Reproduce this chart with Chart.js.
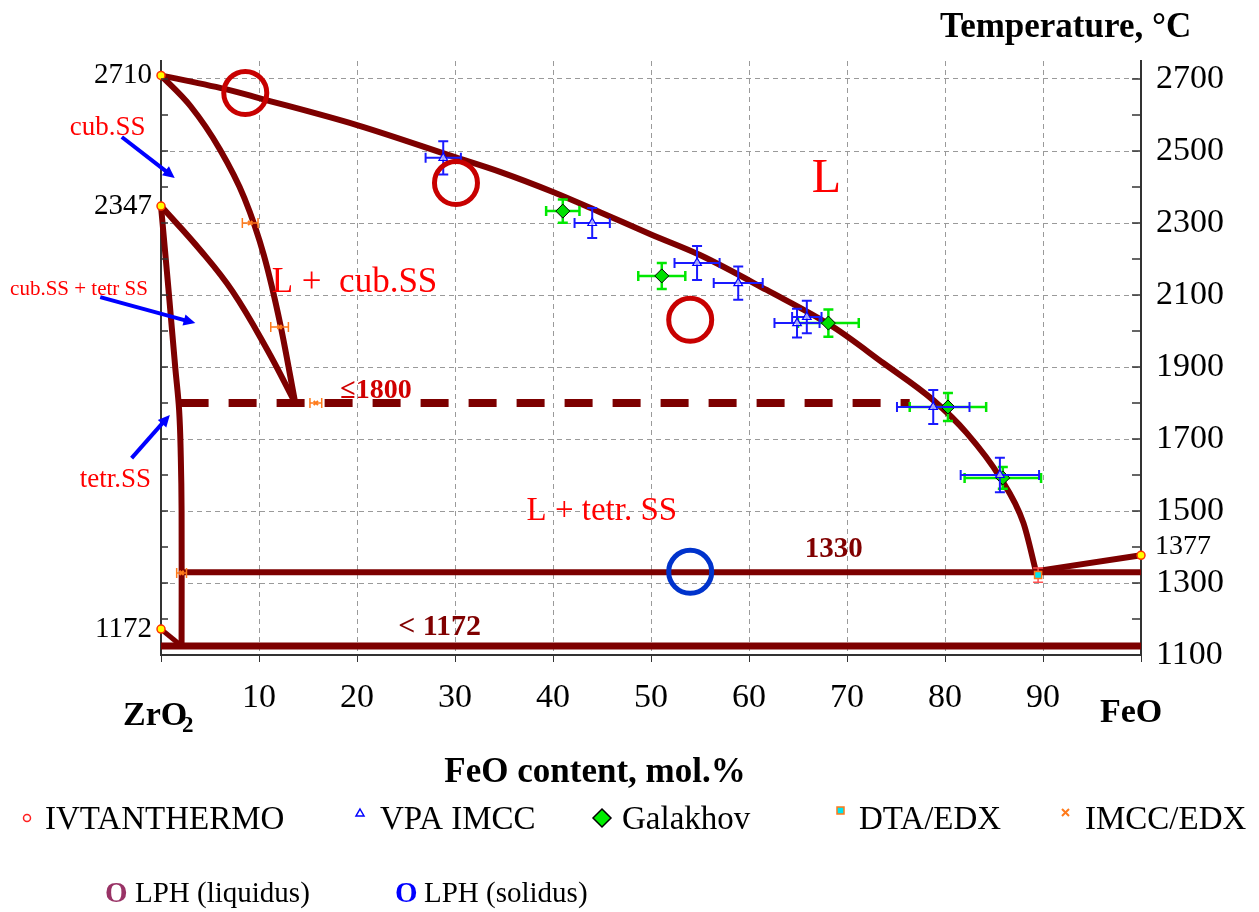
<!DOCTYPE html>
<html>
<head>
<meta charset="utf-8">
<title>ZrO2 - FeO phase diagram</title>
<script src="https://cdn.jsdelivr.net/npm/chart.js@4.4.1/dist/chart.umd.min.js"></script>
<style>
    html, body { margin: 0; padding: 0; background: #fff; }
    #wrap { width: 1259px; height: 912px; }
</style>
</head>
<body>
<div id="wrap"><canvas id="phaseChart" width="1259" height="912"></canvas></div>
<script>
/* ==========================
   DATA (FeO mol.%, T in °C)
========================== */
const liquidusX = [0, 7, 10, 20, 30, 34.6, 40, 44.8, 50, 55, 61.8, 68.6, 73.7, 78.8, 82.2, 85.6, 88, 89.3];
const liquidusT = [2710, 2669, 2647, 2572, 2483, 2442, 2386, 2330, 2268, 2211, 2114, 2011, 1911, 1808, 1717, 1594, 1467, 1330];

const cubX = [0, 3, 6, 8.5, 10.5, 12.2, 13.7];
const cubT = [2710, 2625, 2505, 2370, 2210, 2015, 1800];

const cubTetrX = [0, 4, 7.3, 10.8, 13.7];
const cubTetrT = [2347, 2225, 2110, 1950, 1800];

const tetrX = [0, 0.75, 1.45, 1.85, 2.02, 2.1, 2.1];
const tetrT = [2347, 2120, 1900, 1780, 1650, 1500, 1125];

const lowX = [0, 2.1];
const lowT = [1172, 1125];

const bottomX = [0, 100];
const bottomT = [1125, 1125];

const eutX = [2.1, 100];
const eutT = [1330, 1330];

const feoX = [89.3, 100];
const feoT = [1333, 1377];

const monoX = [2.0, 76.4];
const monoT = [1800, 1800];

// experimental points
const ivtX = [0, 0, 0, 100];
const ivtT = [2710, 2347, 1172, 1377];

const vpaX = [28.8, 44.0, 54.7, 58.9, 64.9, 65.9, 78.8, 85.6];
const vpaT = [2481, 2300, 2189, 2133, 2022, 2039, 1789, 1600];
const vpaErrX = [1.8, 1.8, 2.3, 2.5, 2.3, 1.5, 3.7, 4.0];
const vpaErrT = [46, 42, 47, 46, 40, 45, 47, 48];

const galX = [41.0, 51.1, 68.1, 80.3, 85.9];
const galT = [2333, 2153, 2022, 1789, 1592];
const galErrX = [1.7, 2.4, 3.1, 3.9, 3.9];
const galErrT = [32, 36, 38, 39, 30];

const dtaX = [89.5];
const dtaT = [1322];
const dtaErrT = [20];

const imccX = [9.1, 12.1, 15.8, 2.1];
const imccT = [2300, 2011, 1800, 1328];
const imccErrX = [0.8, 0.9, 0.6, 0.5];

const lphLiqX = [8.6, 30.1, 54.0];
const lphLiqT = [2661, 2411, 2031];
const lphSolX = [54.0];
const lphSolT = [1331];

// axis ticks
const rightTicks = [1100, 1200, 1300, 1400, 1500, 1600, 1700, 1800, 1900, 2000, 2100, 2200, 2300, 2400, 2500, 2600, 2700];
const rightLabels = [1100, 1300, 1500, 1700, 1900, 2100, 2300, 2500, 2700];
const gridT = [1300, 1500, 1700, 1900, 2100, 2300, 2500, 2700];
const leftLabels = [2710, 2347, 1172];

const SERIF = "'Liberation Serif', 'Times New Roman', serif";
const CURVE = "#7d0000";

const pts = (xs, ys) => xs.map((x, i) => ({ x, y: ys[i] }));

/* ==========================
   TEXT + ARROW ANNOTATIONS (data coords)
========================== */
const regionLabels = [
    { text: "cub.SS", x: -9.3, t: 2544, size: 27, color: "#ff0000" },
    { text: "cub.SS + tetr SS", x: -15.4, t: 2100, size: 21, color: "#ff0000" },
    { text: "tetr.SS", x: -8.3, t: 1567, size: 27, color: "#ff0000" },
    { text: "L +  cub.SS", x: 11.3, t: 2108, size: 35, color: "#ff0000" },
    { text: "L", x: 66.4, t: 2386, size: 48, color: "#ff0000" },
    { text: "L + tetr. SS", x: 37.3, t: 1475, size: 33, color: "#ff0000" },
    { text: "\u22641800", x: 18.3, t: 1814, size: 28, color: "#d00000", bold: true },
    { text: "1330", x: 65.7, t: 1372, size: 29, color: "#800000", bold: true },
    { text: "< 1172", x: 24.2, t: 1156, size: 30, color: "#800000", bold: true }
];

const arrows = [
    { x1: -4.0, t1: 2539, x2: 1.4, t2: 2425 },
    { x1: -6.2, t1: 2094, x2: 3.5, t2: 2022 },
    { x1: -3.0, t1: 1647, x2: 0.9, t2: 1767 }
];

/* ==========================
   PLUGINS
========================== */
const errorBarPlugin = {
    id: "errorBars",
    beforeDatasetDraw(chart, args) {
        const ds = chart.data.datasets[args.index];
        if (!ds.errX && !ds.errT) return;
        const xs = chart.scales.x, ys = chart.scales.y, ctx = chart.ctx;
        const cap = 5;
        ctx.save();
        ctx.strokeStyle = ds.errColor;
        ctx.lineWidth = ds.errWidth || 1.5;
        ds.data.forEach((p, i) => {
            const px = xs.getPixelForValue(p.x), py = ys.getPixelForValue(p.y);
            ctx.beginPath();
            if (ds.errX && ds.errX[i]) {
                const a = xs.getPixelForValue(p.x - ds.errX[i]), b = xs.getPixelForValue(p.x + ds.errX[i]);
                ctx.moveTo(a, py); ctx.lineTo(b, py);
                ctx.moveTo(a, py - cap); ctx.lineTo(a, py + cap);
                ctx.moveTo(b, py - cap); ctx.lineTo(b, py + cap);
            }
            if (ds.errT && ds.errT[i]) {
                const a = ys.getPixelForValue(p.y - ds.errT[i]), b = ys.getPixelForValue(p.y + ds.errT[i]);
                ctx.moveTo(px, a); ctx.lineTo(px, b);
                ctx.moveTo(px - cap, a); ctx.lineTo(px + cap, a);
                ctx.moveTo(px - cap, b); ctx.lineTo(px + cap, b);
            }
            ctx.stroke();
        });
        ctx.restore();
    }
};

function drawText(ctx, s, x, y, size, color, bold, align) {
    ctx.font = (bold ? "bold " : "") + size + "px " + SERIF;
    ctx.fillStyle = color;
    ctx.textAlign = align || "left";
    ctx.textBaseline = "alphabetic";
    ctx.fillText(s, x, y);
}

function drawArrow(ctx, x1, y1, x2, y2) {
    const ang = Math.atan2(y2 - y1, x2 - x1);
    const head = 13;
    ctx.save();
    ctx.strokeStyle = "#0000ff";
    ctx.fillStyle = "#0000ff";
    ctx.lineWidth = 4;
    ctx.beginPath();
    ctx.moveTo(x1, y1);
    ctx.lineTo(x2 - Math.cos(ang) * head * 0.8, y2 - Math.sin(ang) * head * 0.8);
    ctx.stroke();
    ctx.beginPath();
    ctx.moveTo(x2, y2);
    ctx.lineTo(x2 - head * Math.cos(ang - 0.45), y2 - head * Math.sin(ang - 0.45));
    ctx.lineTo(x2 - head * Math.cos(ang + 0.45), y2 - head * Math.sin(ang + 0.45));
    ctx.closePath();
    ctx.fill();
    ctx.restore();
}

const annotationPlugin = {
    id: "annotations",
    afterDatasetsDraw(chart) {
        const ctx = chart.ctx, xs = chart.scales.x, ys = chart.scales.y;
        const area = chart.chartArea;

        // inward tick marks on both vertical axes
        ctx.save();
        ctx.strokeStyle = "#333";
        ctx.lineWidth = 1.5;
        rightTicks.forEach(v => {
            const py = ys.getPixelForValue(v);
            ctx.beginPath();
            ctx.moveTo(area.right - 9, py); ctx.lineTo(area.right, py);
            ctx.moveTo(area.left, py); ctx.lineTo(area.left + 7, py);
            ctx.stroke();
        });
        ctx.restore();

        regionLabels.forEach(l => {
            drawText(ctx, l.text, xs.getPixelForValue(l.x), ys.getPixelForValue(l.t), l.size, l.color, l.bold);
        });
        arrows.forEach(a => {
            drawArrow(ctx, xs.getPixelForValue(a.x1), ys.getPixelForValue(a.t1),
                xs.getPixelForValue(a.x2), ys.getPixelForValue(a.t2));
        });

        // 1377 label next to FeO melting point
        ctx.font = "28px " + SERIF;
        ctx.fillStyle = "#000";
        ctx.textAlign = "left";
        ctx.textBaseline = "middle";
        ctx.fillText("1377", area.right + 14, ys.getPixelForValue(1377) - 9);
    },
    afterDraw(chart) {
        const ctx = chart.ctx;
        ctx.save();

        // titles
        drawText(ctx, "Temperature, \u00B0C", 940, 37, 35, "#000", true);
        drawText(ctx, "FeO content, mol.%", 595, 782, 35, "#000", true, "center");
        drawText(ctx, "ZrO", 123, 725, 34, "#000", true);
        drawText(ctx, "2", 182, 732, 23, "#000", true);
        drawText(ctx, "FeO", 1100, 722, 34, "#000", true);

        // legend row 1
        const ly = 818;
        ctx.lineWidth = 1.5;
        ctx.strokeStyle = "#ff2020";
        ctx.beginPath(); ctx.arc(27, ly, 3.5, 0, Math.PI * 2); ctx.stroke();

        ctx.strokeStyle = "#0000ff";
        ctx.beginPath();
        ctx.moveTo(360, ly - 9); ctx.lineTo(364, ly - 2); ctx.lineTo(356, ly - 2); ctx.closePath();
        ctx.stroke();

        ctx.fillStyle = "#00ee00";
        ctx.strokeStyle = "#000";
        ctx.beginPath();
        ctx.moveTo(602, ly - 9); ctx.lineTo(611, ly); ctx.lineTo(602, ly + 9); ctx.lineTo(593, ly);
        ctx.closePath(); ctx.fill(); ctx.stroke();

        ctx.fillStyle = "#00e5ee";
        ctx.strokeStyle = "#ff7a1a";
        ctx.fillRect(837, ly - 11, 7, 7);
        ctx.strokeRect(837, ly - 11, 7, 7);

        ctx.strokeStyle = "#ff7a1a";
        ctx.lineWidth = 2;
        ctx.beginPath();
        ctx.moveTo(1062, ly - 9); ctx.lineTo(1069, ly - 2);
        ctx.moveTo(1069, ly - 9); ctx.lineTo(1062, ly - 2);
        ctx.stroke();

        [["IVTANTHERMO", 45], ["VPA IMCC", 380], ["Galakhov", 622], ["DTA/EDX", 859], ["IMCC/EDX", 1085]]
            .forEach(([s, x]) => drawText(ctx, s, x, ly + 11, 33, "#000", false));

        // legend row 2
        drawText(ctx, "O", 105, 902, 29, "#993366", true);
        drawText(ctx, "LPH (liquidus)", 135, 902, 29, "#000", false);
        drawText(ctx, "O", 395, 902, 29, "#0000ff", true);
        drawText(ctx, "LPH (solidus)", 424, 902, 29, "#000", false);

        ctx.restore();
    }
};

/* ==========================
   CHART
========================== */
function curve(xs, ys, extra) {
    return Object.assign({
        data: pts(xs, ys),
        showLine: true,
        borderColor: CURVE,
        backgroundColor: CURVE,
        borderWidth: 6,
        pointRadius: 0,
        clip: false,
        order: 10
    }, extra || {});
}

function markers(xs, ys, extra) {
    return Object.assign({
        data: pts(xs, ys),
        showLine: false,
        clip: false,
        order: 0
    }, extra);
}

const datasets = [
    curve(liquidusX, liquidusT, { cubicInterpolationMode: "monotone" }),
    curve(cubX, cubT, { cubicInterpolationMode: "monotone" }),
    curve(cubTetrX, cubTetrT, { tension: 0.4 }),
    curve(tetrX, tetrT, { tension: 0.4 }),
    curve(lowX, lowT, { borderWidth: 5 }),
    curve(bottomX, bottomT, { borderWidth: 7 }),
    curve(eutX, eutT, { borderWidth: 6 }),
    curve(feoX, feoT, { borderWidth: 6 }),
    curve(monoX, monoT, { borderWidth: 8, borderDash: [28, 20], borderCapStyle: "butt" }),

    markers(lphLiqX, lphLiqT, {
        pointStyle: "circle", pointRadius: 21.5, pointBorderWidth: 5,
        pointBorderColor: "#c80000", pointBackgroundColor: "rgba(0,0,0,0)"
    }),
    markers(lphSolX, lphSolT, {
        pointStyle: "circle", pointRadius: 21.5, pointBorderWidth: 5,
        pointBorderColor: "#0033cc", pointBackgroundColor: "rgba(0,0,0,0)"
    }),
    markers(vpaX, vpaT, {
        pointStyle: "triangle", pointRadius: 5, pointBorderWidth: 1.2,
        pointBorderColor: "#0000ff", pointBackgroundColor: "rgba(255,255,255,0.6)",
        errX: vpaErrX, errT: vpaErrT, errColor: "#1a1aff", errWidth: 2
    }),
    markers(galX, galT, {
        pointStyle: "rectRot", pointRadius: 7, pointBorderWidth: 1,
        pointBorderColor: "#000", pointBackgroundColor: "#00e000",
        errX: galErrX, errT: galErrT, errColor: "#00e800", errWidth: 2.5
    }),
    markers(imccX, imccT, {
        pointStyle: "crossRot", pointRadius: 3, pointBorderWidth: 2,
        pointBorderColor: "#ff7a1a",
        errX: imccErrX, errColor: "#ff7a1a", errWidth: 1.5
    }),
    markers(dtaX, dtaT, {
        pointStyle: "rect", pointRadius: 5, pointBorderWidth: 1.5,
        pointBorderColor: "#ff7a1a", pointBackgroundColor: "#00e5ee",
        errT: dtaErrT, errColor: "#ff5050", errWidth: 1.5
    }),
    markers(ivtX, ivtT, {
        pointStyle: "circle", pointRadius: 4, pointBorderWidth: 1.5,
        pointBorderColor: "#ff3300", pointBackgroundColor: "#ffff00"
    })
];

new Chart(document.getElementById("phaseChart").getContext("2d"), {
    type: "scatter",
    data: { datasets },
    options: {
        responsive: false,
        animation: false,
        events: [],
        layout: { padding: { top: 61, left: 0, right: 0, bottom: 0 } },
        plugins: { legend: { display: false }, tooltip: { enabled: false } },
        scales: {
            x: {
                type: "linear",
                position: "bottom",
                min: 0,
                max: 100,
                afterFit: s => { s.height = 257; },
                ticks: {
                    stepSize: 10,
                    autoSkip: false,
                    maxRotation: 0,
                    padding: 16,
                    color: "#000",
                    font: { family: SERIF, size: 34 },
                    callback: v => (v > 0 && v < 100) ? String(v) : ""
                },
                grid: {
                    color: c => (c.tick && c.tick.value > 0 && c.tick.value < 100) ? "#9a9a9a" : "rgba(0,0,0,0)",
                    lineWidth: 1,
                    tickColor: "#333",
                    tickLength: 7
                },
                border: { color: "#333", width: 2, dash: [5, 4] }
            },
            y: {
                type: "linear",
                position: "right",
                min: 1100,
                max: 2750,
                afterFit: s => { s.width = 118; },
                afterBuildTicks: axis => { axis.ticks = rightTicks.map(v => ({ value: v })); },
                ticks: {
                    autoSkip: false,
                    padding: 15,
                    color: "#000",
                    font: { family: SERIF, size: 34 },
                    callback: v => rightLabels.includes(v) ? String(v) : ""
                },
                grid: {
                    color: c => (c.tick && gridT.includes(c.tick.value)) ? "#9a9a9a" : "rgba(0,0,0,0)",
                    lineWidth: 1,
                    drawTicks: false
                },
                border: { color: "#333", width: 2, dash: [5, 4] }
            },
            yLeft: {
                type: "linear",
                position: "left",
                min: 1100,
                max: 2750,
                afterFit: s => { s.width = 161; },
                afterBuildTicks: axis => { axis.ticks = leftLabels.map(v => ({ value: v })); },
                ticks: {
                    autoSkip: false,
                    padding: 9,
                    color: "#000",
                    font: { family: SERIF, size: 29 },
                    callback: v => String(v)
                },
                grid: { drawOnChartArea: false, drawTicks: false },
                border: { color: "#333", width: 2 }
            }
        }
    },
    plugins: [errorBarPlugin, annotationPlugin]
});
</script>
</body>
</html>
